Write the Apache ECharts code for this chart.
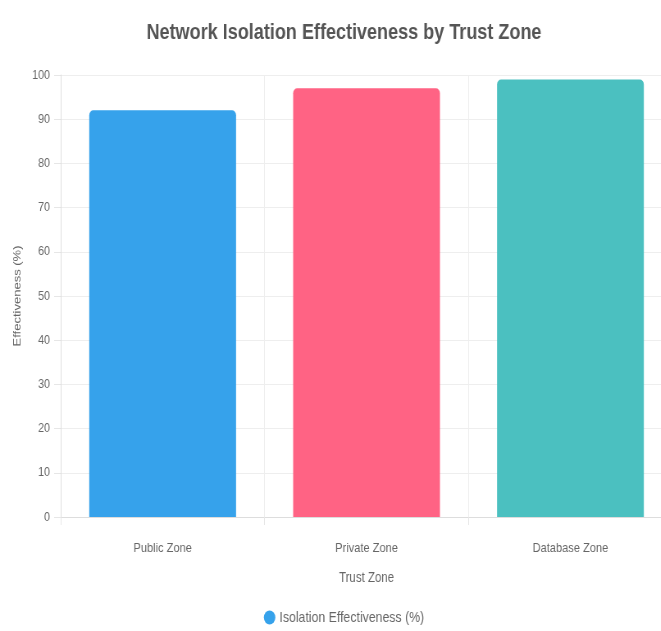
<!DOCTYPE html>
<html>
<head>
<meta charset="utf-8">
<script src="https://cdn.jsdelivr.net/npm/echarts@6/dist/echarts.min.js"></script>
<style>
  html, body { margin: 0; padding: 0; background: #fff; overflow: hidden; }
  #wrap { width: 661px; height: 631px; overflow: hidden; position: relative; }
  /* chart is laid out wider and squeezed horizontally for a condensed look */
  #chart { width: 839px; height: 631px; transform: scaleX(0.82); transform-origin: 0 0; }
</style>
</head>
<body>
<div id="wrap"><div id="chart"></div></div>
<script>
// Trust zones and their measured isolation effectiveness
const zones = ['Public Zone', 'Private Zone', 'Database Zone'];
const effectiveness = [92, 97, 99];
const zoneColors = ['#36A2EB', '#FF6384', '#4BC0C0'];
const seriesName = 'Isolation Effectiveness (%)';

const FONT = '"Liberation Sans", Arial, sans-serif';

const chart = echarts.init(document.getElementById('chart'));
chart.setOption({
  animation: false,
  title: {
    text: 'Network Isolation Effectiveness by Trust Zone',
    left: 'center',
    top: 17,
    textStyle: { fontFamily: FONT, fontSize: 22, fontWeight: 'bold', color: '#555' }
  },
  legend: {
    bottom: 1,
    left: 'center',
    icon: 'circle',
    itemWidth: 14,
    itemHeight: 14,
    itemGap: 6,
    textStyle: { fontFamily: FONT, fontSize: 15, color: '#666' },
    data: [{ name: seriesName, itemStyle: { color: zoneColors[0] } }]
  },
  grid: { left: 74, top: 75, width: 746, height: 442, outerBoundsMode: 'none', containLabel: false },
  xAxis: {
    type: 'category',
    data: zones,
    name: 'Trust Zone',
    nameLocation: 'middle',
    nameGap: 54,
    nameTextStyle: { fontFamily: FONT, fontSize: 14, color: '#666' },
    axisLine: { lineStyle: { color: '#ddd' } },
    axisTick: { show: true, length: 8, lineStyle: { color: '#e6e6e6' } },
    axisLabel: { fontFamily: FONT, fontSize: 13.5, color: '#666', margin: 24 },
    splitLine: { show: true, lineStyle: { color: '#eee' } }
  },
  yAxis: {
    type: 'value',
    min: 0,
    max: 100,
    interval: 10,
    name: 'Effectiveness (%)',
    nameLocation: 'middle',
    nameGap: 39,
    nameTextStyle: { fontFamily: FONT, fontSize: 13, color: '#666' },
    axisLine: { show: true, lineStyle: { color: '#ddd' } },
    axisTick: { show: true, length: 8, lineStyle: { color: '#e6e6e6' } },
    axisLabel: { fontFamily: FONT, fontSize: 13, color: '#666', margin: 13 },
    splitLine: { show: true, lineStyle: { color: '#eee' } }
  },
  series: [{
    name: seriesName,
    type: 'bar',
    barWidth: '72%',
    data: effectiveness.map((v, i) => ({
      value: v,
      itemStyle: { color: zoneColors[i], borderRadius: [5, 5, 0, 0] }
    }))
  }]
});
</script>
</body>
</html>
